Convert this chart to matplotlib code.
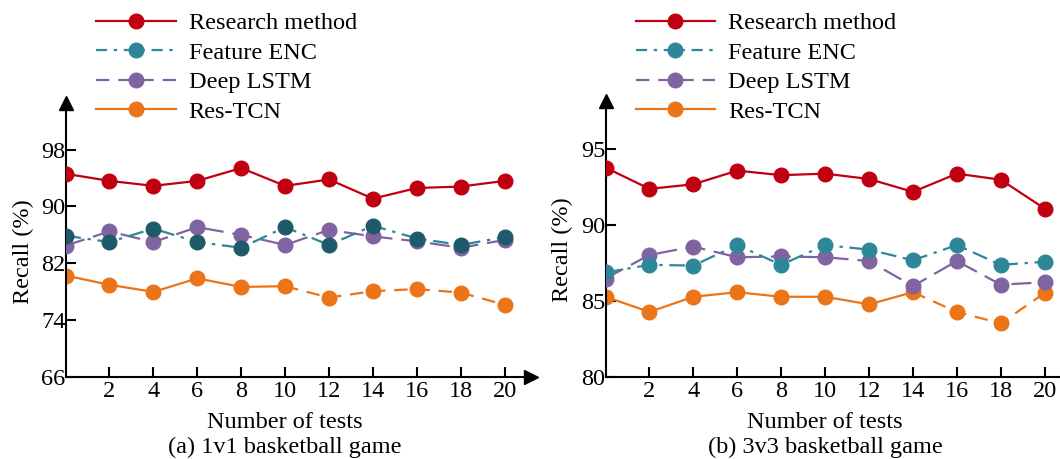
import matplotlib
matplotlib.use("Agg")
import matplotlib.pyplot as plt
from matplotlib.lines import Line2D
from matplotlib.transforms import blended_transform_factory

plt.rcParams['font.family'] = ['Liberation Serif', 'DejaVu Serif']

tests = [0, 2, 4, 6, 8, 10, 12, 14, 16, 18, 20]
xticks = [2, 4, 6, 8, 10, 12, 14, 16, 18, 20]

# (a) 1v1 basketball game
a_research = [94.6, 93.6, 92.9, 93.6, 95.4, 92.9, 93.8, 91.1, 92.6, 92.8, 93.6]
a_feature = [85.9, 85.0, 86.9, 85.0, 84.2, 87.1, 84.6, 87.3, 85.5, 84.6, 85.7]
a_lstm = [84.5, 86.5, 85.0, 87.1, 86.0, 84.6, 86.7, 85.8, 85.1, 84.2, 85.3]
a_restcn = [80.3, 79.0, 78.0, 79.9, 78.7, 78.8, 77.2, 78.1, 78.4, 77.9, 76.2]
a_yticks = [66, 74, 82, 90, 98]

# (b) 3v3 basketball game
b_research = [93.8, 92.4, 92.7, 93.6, 93.3, 93.4, 93.05, 92.2, 93.4, 93.0, 91.1]
b_feature = [86.9, 87.4, 87.35, 88.7, 87.4, 88.7, 88.4, 87.7, 88.7, 87.4, 87.6]
b_lstm = [86.5, 88.05, 88.6, 87.9, 87.95, 87.9, 87.65, 86.0, 87.65, 86.1, 86.25]
b_restcn = [85.3, 84.3, 85.3, 85.6, 85.3, 85.3, 84.8, 85.6, 84.3, 83.55, 85.55]
b_yticks = [80, 85, 90, 95]

labels = ["Research method", "Feature ENC", "Deep LSTM", "Res-TCN"]
captions = ["(a) 1v1 basketball game", "(b) 3v3 basketball game"]

RED = "#c00010"
TEAL = "#2e8799"
TEAL_DARK = "#1e5a69"
PURPLE = "#8064a2"
ORANGE = "#ec7418"

FS = 17.5
W, H = 1060, 459
fig = plt.figure(figsize=(W / 100, H / 100), dpi=100)

def axes_px(left, right, top, bottom):
    return fig.add_axes([left / W, 1 - bottom / H, (right - left) / W, (bottom - top) / H])

XMAX = 21.2
ax1 = axes_px(65.5, 65.5 + XMAX * 21.96, 103.3, 377.3)
ax2 = axes_px(605.5, 605.5 + XMAX * 21.96, 100.7, 377.3)

LW = 1.6
MS = 10.5

def draw(ax, research, feature, lstm, restcn, feat_mcolor, split, ylim, yticks, caption):
    ax.plot(tests, research, color=RED, lw=LW, marker='o', ms=MS, mfc=RED, mec=RED, zorder=5)
    ax.plot(tests, feature, color=TEAL, lw=LW, ls=(0, (7, 3, 1.5, 3)), marker='o', ms=MS,
            mfc=feat_mcolor, mec=feat_mcolor, zorder=4)
    ax.plot(tests, lstm, color=PURPLE, lw=LW, ls=(0, (9, 4)), marker='o', ms=MS,
            mfc=PURPLE, mec=PURPLE, zorder=3)
    ax.plot(tests[:split + 1], restcn[:split + 1], color=ORANGE, lw=LW, zorder=2)
    ax.plot(tests[split:], restcn[split:], color=ORANGE, lw=LW, ls=(0, (6, 4)), zorder=2)
    ax.plot(tests, restcn, ls='none', marker='o', ms=MS, mfc=ORANGE, mec=ORANGE, zorder=2)

    ax.set_xlim(0, XMAX)
    ax.set_ylim(*ylim)
    ax.set_xticks(xticks)
    ax.set_yticks(yticks)
    for s in ['top', 'right']:
        ax.spines[s].set_visible(False)
    for s in ['left', 'bottom']:
        ax.spines[s].set_linewidth(1.5)
        ax.spines[s].set_color('black')
    ax.tick_params(axis='both', direction='in', length=7, width=1.5, labelsize=FS, colors='black')
    ax.tick_params(axis='x', pad=3)
    ax.tick_params(axis='y', pad=0)
    ax.patch.set_alpha(0)
    # arrow heads
    ax.plot([0], [1], marker='^', ms=9.5, color='black', transform=ax.transAxes, clip_on=False, zorder=10)
    ax.plot([1], [0], marker='>', ms=9.5, color='black', transform=ax.transAxes, clip_on=False, zorder=10)

    ax.set_ylabel("Recall (%)", fontsize=FS)
    tr = blended_transform_factory(ax.transData, fig.transFigure)
    ax.text(10, 1 - 428 / H, "Number of tests", transform=tr, ha='center', va='baseline', fontsize=FS)
    ax.text(10, 1 - 453 / H, caption, transform=tr, ha='center', va='baseline', fontsize=FS)

draw(ax1, a_research, a_feature, a_lstm, a_restcn, TEAL_DARK, 5, (66, 104.5), a_yticks, captions[0])
draw(ax2, b_research, b_feature, b_lstm, b_restcn, TEAL, 7, (80, 98.2), b_yticks, captions[1])
ax1.yaxis.set_label_coords((34 - 65.5) / (XMAX * 21.96), 0.458)
ax2.yaxis.set_label_coords((573 - 605.5) / (XMAX * 21.96), 0.46)

def handles():
    return [
        Line2D([], [], color=RED, lw=LW, marker='o', ms=MS, mfc=RED, mec=RED),
        Line2D([], [], color=TEAL, lw=LW, ls=(0, (5, 3, 1.5, 3)), marker='o', ms=MS, mfc=TEAL, mec=TEAL),
        Line2D([], [], color=PURPLE, lw=LW, ls=(0, (6, 4)), marker='o', ms=MS, mfc=PURPLE, mec=PURPLE),
        Line2D([], [], color=ORANGE, lw=LW, marker='o', ms=MS, mfc=ORANGE, mec=ORANGE),
    ]

for x0 in (96.4, 635.5):
    fig.legend(handles(), labels, loc='upper left', bbox_to_anchor=(x0 / W, 1 - 12 / H),
               frameon=False, fontsize=FS, handlelength=3.26, handletextpad=0.54,
               labelspacing=0.31, borderpad=0, borderaxespad=0)

fig.savefig("out.png", dpi=100)
